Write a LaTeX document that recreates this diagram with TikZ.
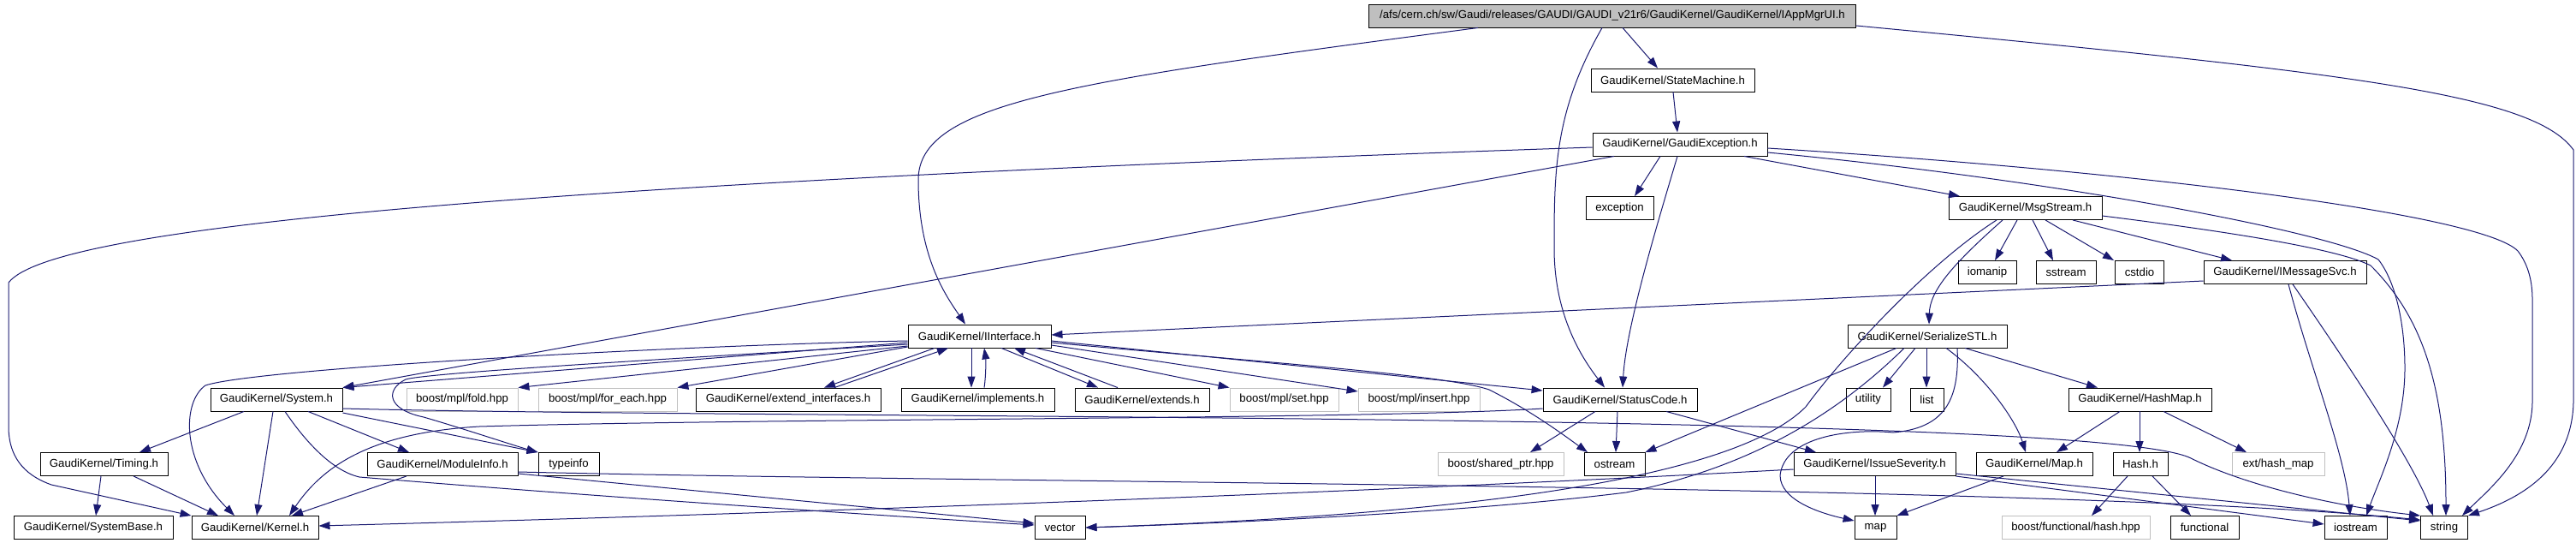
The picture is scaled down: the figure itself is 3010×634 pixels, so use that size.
\documentclass[tikz,border=0pt]{standalone}
\usepackage{fontspec}
\setmainfont{Liberation Sans}
\usetikzlibrary{arrows.meta}
\definecolor{edgec}{HTML}{191970}
\definecolor{grayb}{HTML}{BFBFBF}
\tikzset{
  box/.style={draw=black, line width=0.9pt, fill=white, minimum height=27pt, inner sep=0pt, font=\fontsize{13.2}{15}\selectfont},
  gbox/.style={box, draw=grayb},
  edge/.style={draw=edgec, line width=1pt, line join=round, -{Triangle[length=13pt,width=9pt]}},
}
\begin{document}
\begin{tikzpicture}[x=1pt,y=-1pt]
\useasboundingbox (0,0) rectangle (3010,634);
% nodes
\node[box, fill=grayb, minimum width=569pt] (top) at (1884,18.5) {/afs/cern.ch/sw/Gaudi/releases/GAUDI/GAUDI\_v21r6/GaudiKernel/GaudiKernel/IAppMgrUI.h};
\node[box, minimum width=191pt] (sm) at (1954.5,93.5) {GaudiKernel/StateMachine.h};
\node[box, minimum width=204pt] (ge) at (1963,168.5) {GaudiKernel/GaudiException.h};
\node[box, minimum width=79pt] (exc) at (1892.5,243) {exception};
\node[box, minimum width=179pt] (msg) at (2366.5,243) {GaudiKernel/MsgStream.h};
\node[box, minimum width=68pt] (iomanip) at (2322,318) {iomanip};
\node[box, minimum width=70pt] (sstream) at (2414,318) {sstream};
\node[box, minimum width=57pt] (cstdio) at (2500,318) {cstdio};
\node[box, minimum width=190pt] (imsg) at (2670,318) {GaudiKernel/IMessageSvc.h};
\node[box, minimum width=167pt] (iint) at (1144.5,392.5) {GaudiKernel/IInterface.h};
\node[box, minimum width=186pt] (ser) at (2252,392.5) {GaudiKernel/SerializeSTL.h};
\node[box, minimum width=154pt] (system) at (323,466.5) {GaudiKernel/System.h};
\node[gbox, minimum width=130pt] (fold) at (540,466.5) {boost/mpl/fold.hpp};
\node[gbox, minimum width=162pt] (foreach) at (710,466.5) {boost/mpl/for\_each.hpp};
\node[box, minimum width=216pt] (extif) at (921,466.5) {GaudiKernel/extend\_interfaces.h};
\node[box, minimum width=179pt] (impl) at (1142.5,466.5) {GaudiKernel/implements.h};
\node[box, minimum width=157pt] (extends) at (1334.5,466.5) {GaudiKernel/extends.h};
\node[gbox, minimum width=127pt] (mplset) at (1500.5,466.5) {boost/mpl/set.hpp};
\node[gbox, minimum width=142pt] (mplins) at (1658,466.5) {boost/mpl/insert.hpp};
\node[box, minimum width=180pt] (status) at (1893,466.5) {GaudiKernel/StatusCode.h};
\node[box, minimum width=52pt] (utility) at (2183,466.5) {utility};
\node[box, minimum width=39pt] (list) at (2251.5,466.5) {list};
\node[box, minimum width=167pt] (hashmap) at (2500.5,466.5) {GaudiKernel/HashMap.h};
\node[box, minimum width=149pt] (timing) at (121.5,542) {GaudiKernel/Timing.h};
\node[box, minimum width=176pt] (modinfo) at (517,542) {GaudiKernel/ModuleInfo.h};
\node[box, minimum width=71pt] (typeinfo) at (664.5,542) {typeinfo};
\node[gbox, minimum width=147pt] (shared) at (1753.5,542) {boost/shared\_ptr.hpp};
\node[box, minimum width=71pt] (ostream) at (1886.5,542) {ostream};
\node[box, minimum width=189pt] (issue) at (2190.5,542) {GaudiKernel/IssueSeverity.h};
\node[box, minimum width=136pt] (mapH) at (2377,542) {GaudiKernel/Map.h};
\node[box, minimum width=64pt] (hash) at (2501,542) {Hash.h};
\node[gbox, minimum width=108pt] (extmap) at (2662,542) {ext/hash\_map};
\node[box, minimum width=186pt] (sysbase) at (109,616) {GaudiKernel/SystemBase.h};
\node[box, minimum width=148pt] (kernel) at (298,616) {GaudiKernel/Kernel.h};
\node[box, minimum width=59pt] (vector) at (1238.5,616) {vector};
\node[box, minimum width=49pt] (map) at (2191.5,616) {map};
\node[gbox, minimum width=173pt] (bfhash) at (2425.5,616) {boost/functional/hash.hpp};
\node[box, minimum width=80pt] (functional) at (2576,616) {functional};
\node[box, minimum width=73pt] (iostream) at (2752.5,616) {iostream};
\node[box, minimum width=55pt] (string) at (2856,616) {string};
% edges from top
\draw[edge] (1727,0 |- top.south) .. controls (1250,95) and (1073,120) .. (1073,210) .. controls (1073,300) and (1105,345) .. (1128,0 |- iint.north);
\draw[edge] (1896,0 |- top.south) -- (1937,0 |- sm.north);
\draw[edge] (1872,0 |- top.south) .. controls (1816,130) and (1816,200) .. (1816,290) .. controls (1816,370) and (1850,420) .. (1875,0 |- status.north);
\draw[edge] (top.east |- 0,30) .. controls (2750,85) and (2960,110) .. (3007,175) -- (3007,470) .. controls (3005,545) and (2950,580) .. (string.north east);
\draw[edge] (1955,0 |- sm.south) -- (1960,0 |- ge.north);
% GaudiException
\draw[edge] (ge.west |- 0,172) .. controls (600,215) and (60,265) .. (10,330) -- (10,500) .. controls (11,540) and (35,557) .. (60,566) -- (kernel.north west);
\draw[edge] (1886,0 |- ge.south) -- (system.north east);
\draw[edge] (1940,0 |- ge.south) -- (1910,0 |- exc.north);
\draw[edge] (1960,0 |- ge.south) .. controls (1940,250) and (1900,380) .. (1896,0 |- status.north);
\draw[edge] (2038,0 |- ge.south) -- (2290,0 |- msg.north);
\draw[edge] (ge.east |- 0,173) .. controls (2500,200) and (2900,250) .. (2942,293) .. controls (2955,310) and (2959,330) .. (2959,350) -- (2959,470) .. controls (2958,530) and (2910,570) .. (2877,0 |- string.north);
\draw[edge] (ge.east |- 0,178) .. controls (2400,210) and (2720,270) .. (2779,303) .. controls (2800,330) and (2810,380) .. (2810,430) .. controls (2810,500) and (2780,560) .. (2765,0 |- iostream.north);
% MsgStream
\draw[edge] (msg.east |- 0,252) .. controls (2600,270) and (2730,290) .. (2770,310) .. controls (2830,370) and (2858,450) .. (2858,0 |- string.north);
\draw[edge] (2422,0 |- msg.south) -- (2608,0 |- imsg.north);
\draw[edge] (2357,0 |- msg.south) -- (2331,0 |- iomanip.north);
\draw[edge] (2375,0 |- msg.south) -- (2399,0 |- sstream.north);
\draw[edge] (2390,0 |- msg.south) -- (2470,0 |- cstdio.north);
\draw[edge] (2340,0 |- msg.south) .. controls (2280,310) and (2255,340) .. (2254,0 |- ser.north);
\draw[edge] (2333,0 |- msg.south) .. controls (2250,310) and (2150,420) .. (2110,475) .. controls (2040,545) and (1800,598) .. (vector.east);
% IMessageSvc
\draw[edge] (imsg.west |- 0,328) -- (iint.east |- 0,391);
\draw[edge] (2674,0 |- imsg.south) .. controls (2700,430) and (2740,530) .. (2746,0 |- iostream.north);
\draw[edge] (2679,0 |- imsg.south) .. controls (2740,420) and (2820,540) .. (2843,0 |- string.north);
% SerializeSTL
\draw[edge] (2238,0 |- ser.south) -- (2200,0 |- utility.north);
\draw[edge] (2251,0 |- ser.south) -- (2251,0 |- list.north);
\draw[edge] (2274,0 |- ser.south) .. controls (2320,440) and (2355,490) .. (2367,0 |- mapH.north);
\draw[edge] (2296,0 |- ser.south) -- (2451,0 |- hashmap.north);
\draw[edge] (2216,0 |- ser.south) -- (ostream.north east);
\draw[edge] (2225,0 |- ser.south) .. controls (2150,480) and (2050,545) .. (1900,575) .. controls (1700,600) and (1400,612) .. (vector.east);
\draw[edge] (2287,0 |- ser.south) .. controls (2290,470) and (2270,500) .. (2212,505) .. controls (2160,500) and (2085,510) .. (2080,555) .. controls (2080,585) and (2130,600) .. (map.west |- 0,608);
% HashMap, Map, Hash
\draw[edge] (2477,0 |- hashmap.south) -- (2403,0 |- mapH.north);
\draw[edge] (2500,0 |- hashmap.south) -- (2500,0 |- hash.north);
\draw[edge] (2528,0 |- hashmap.south) -- (2625,0 |- extmap.north);
\draw[edge] (2341,0 |- mapH.south) -- (map.north east);
\draw[edge] (2486,0 |- hash.south) -- (2444,0 |- bfhash.north);
\draw[edge] (2515,0 |- hash.south) -- (2560,0 |- functional.north);
% IssueSeverity
\draw[edge] (2191,0 |- issue.south) -- (2191,0 |- map.north);
\draw[edge] (issue.east |- 0,553) .. controls (2500,575) and (2700,595) .. (string.west |- 0,608);
\draw[edge] (issue.east |- 0,556) -- (iostream.west |- 0,612);
\draw[edge] (issue.west |- 0,548) .. controls (1600,575) and (900,600) .. (kernel.east |- 0,614);
% StatusCode
\draw[edge] (1890,0 |- status.south) -- (1888,0 |- ostream.north);
\draw[edge] (1864,0 |- status.south) -- (1788,0 |- shared.north);
\draw[edge] (1947,0 |- status.south) -- (2122,0 |- issue.north);
\draw[edge] (status.west |- 0,477) .. controls (1600,490) and (900,488) .. (560,498) .. controls (440,505) and (380,540) .. (338,0 |- kernel.north);
% IInterface
\draw[edge] (iint.west |- 0,398) .. controls (800,403) and (300,430) .. (240,450) .. controls (212,470) and (212,540) .. (274,0 |- kernel.north);
\draw[edge] (iint.west |- 0,400) -- (system.north east);
\draw[edge] (iint.west |- 0,402) .. controls (800,418) and (500,435) .. (474,443) .. controls (450,455) and (452,478) .. (495,487) .. controls (540,500) and (600,520) .. (typeinfo.north west);
\draw[edge] (iint.west |- 0,404) -- (fold.north east);
\draw[edge] (iint.west |- 0,405) -- (foreach.north east);
\draw[edge] (1092,0 |- iint.south) -- (963,0 |- extif.north);
\draw[edge] (975,0 |- extif.north) -- (1108,0 |- iint.south);
\draw[edge] (1135,0 |- iint.south) -- (1135,0 |- impl.north);
\draw[edge] (1150,0 |- impl.north) .. controls (1152,440) and (1152,420) .. (1150,0 |- iint.south);
\draw[edge] (1170,0 |- iint.south) -- (1283,0 |- extends.north);
\draw[edge] (1306,0 |- extends.north) -- (1185,0 |- iint.south);
\draw[edge] (1210,0 |- iint.south) -- (mplset.north west);
\draw[edge] (iint.east |- 0,403) -- (mplins.west |- 0,457);
\draw[edge] (iint.east |- 0,398) -- (status.west |- 0,456);
\draw[edge] (iint.east |- 0,400) .. controls (1500,425) and (1690,438) .. (1740,455) .. controls (1790,480) and (1830,510) .. (1855,0 |- ostream.north);
% System
\draw[edge] (system.east |- 0,477) .. controls (900,490) and (2450,480) .. (2560,535) .. controls (2620,565) and (2720,590) .. (string.north west);
\draw[edge] (system.east |- 0,482) -- (typeinfo.north west);
\draw[edge] (319,0 |- system.south) -- (300,0 |- kernel.north);
\draw[edge] (285,0 |- system.south) -- (163,0 |- timing.north);
\draw[edge] (360,0 |- system.south) -- (478,0 |- modinfo.north);
\draw[edge] (333,0 |- system.south) .. controls (360,520) and (390,550) .. (420,557) .. controls (700,580) and (1000,600) .. (vector.west |- 0,613);
% ModuleInfo, Timing
\draw[edge] (modinfo.east |- 0,553) -- (vector.west |- 0,611);
\draw[edge] (modinfo.east |- 0,551) .. controls (1200,565) and (2400,565) .. (string.west |- 0,607);
\draw[edge] (475,0 |- modinfo.south) -- (341,0 |- kernel.north);
\draw[edge] (118,0 |- timing.south) -- (112,0 |- sysbase.north);
\draw[edge] (156,0 |- timing.south) -- (255,0 |- kernel.north);
\end{tikzpicture}
\end{document}
